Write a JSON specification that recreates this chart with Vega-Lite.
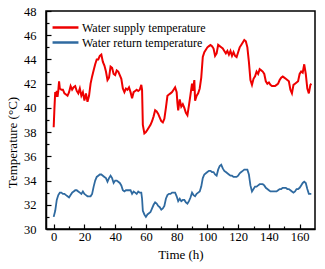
{
  "$schema": "https://vega.github.io/schema/vega-lite/v6.json",
  "width": 269,
  "height": 218,
  "autosize": "none",
  "padding": {"left": 46, "top": 11, "right": 10, "bottom": 40},
  "background": "white",
  "config": {
    "font": "Liberation Serif",
    "view": {"stroke": "black", "strokeWidth": 1.5},
    "axis": {"grid": false, "domainColor": "black", "domainWidth": 1.5, "tickColor": "black", "tickWidth": 1.2, "labelColor": "black", "titleColor": "black", "labelFont": "Liberation Serif", "titleFont": "Liberation Serif", "labelFontSize": 12.5, "titleFontSize": 13, "titleFontWeight": "normal", "labelOverlap": false, "labelFlush": false}
  },
  "resolve": {"axis": {"x": "independent", "y": "independent"}},
  "datasets": {
    "supply": [
      [0,38.4],[0.5,40.0],[1,41.3],[1.5,40.9],[2,41.4],[2.5,40.9],[3,41.4],[3.5,42.2],[4,41.6],[5,41.5],[6,41.5],[7,41.2],[8,41.1],[9,41.0],[10,41.3],[11,41.8],[12,41.5],[13,41.7],[14,41.8],[15,41.4],[16,41.2],[17,41.6],[18,41.0],[19,41.3],[20,40.6],[21,41.2],[22,40.5],[23,41.0],[24,42.0],[25,42.6],[26,43.1],[27,43.6],[28,44.0],[29,44.0],[30,44.3],[31,44.4],[32,43.8],[33,43.5],[34,43.0],[35,42.3],[36,42.5],[37,43.4],[38,43.3],[39,42.8],[40,42.7],[41,43.1],[42,43.0],[43,42.7],[44,42.4],[45,41.6],[46,41.3],[47,41.6],[48,41.5],[49,41.7],[50,41.3],[51,40.8],[52,41.3],[53,41.4],[54,41.5],[55,41.4],[56,41.5],[57,41.9],[57.5,41.5],[58,38.6],[59,37.9],[60,38.0],[61,38.2],[62,38.4],[63,38.6],[64,38.9],[65,39.3],[66,39.8],[67,39.7],[68,39.5],[69,39.2],[70,38.9],[71,38.8],[72,39.1],[73,40.0],[74,41.0],[75,41.1],[76,41.2],[77,41.3],[78,41.5],[79,41.7],[80,41.3],[80.5,40.4],[81,39.8],[82,40.7],[83,40.1],[84,40.3],[85,40.0],[86,39.6],[87,39.4],[88,40.2],[89,41.1],[90,42.0],[90.5,41.4],[91.5,42.3],[92,40.6],[93,41.0],[94,41.2],[95,41.6],[96,42.5],[97,44.2],[98,44.6],[99,44.8],[100,45.0],[101,45.1],[102,45.2],[103,45.1],[104,44.9],[105,44.3],[106,44.5],[107,45.2],[108,45.1],[109,45.0],[110,44.9],[111,44.7],[112,44.5],[113,44.7],[114,44.4],[115,44.7],[116,44.3],[117,44.6],[118,44.3],[119,44.2],[120,44.6],[121,45.0],[122,45.2],[123,45.4],[124,45.6],[125,45.5],[126,45.0],[127,43.8],[128,42.3],[129,41.9],[130,42.4],[131,42.6],[132,43.0],[133,42.8],[134,43.2],[135,43.1],[136,43.0],[137,42.8],[138,42.2],[139,42.0],[140,42.1],[141,41.9],[142,41.8],[143,41.8],[144,41.8],[145,41.9],[146,42.0],[147,42.3],[148,42.5],[149,42.6],[150,42.5],[151,42.4],[152,42.3],[153,42.2],[154,41.5],[155,41.2],[156,41.9],[157,42.0],[158,42.1],[159,42.2],[160,42.8],[161,43.0],[162,42.9],[163,43.6],[164,42.8],[165,41.6],[166,41.2],[167,41.9],[167.6,42.0]
    ],
    "ret": [
      [0,31.0],[1,31.5],[2,32.4],[3,32.8],[4,33.0],[5,33.0],[6,32.9],[7,32.9],[8,32.8],[9,32.7],[10,32.6],[11,32.8],[12,33.0],[13,33.1],[14,33.2],[15,33.2],[16,33.1],[17,33.0],[18,32.9],[19,33.1],[20,32.9],[21,32.8],[22,32.7],[23,32.7],[24,32.7],[25,32.9],[26,33.5],[27,34.0],[28,34.3],[29,34.4],[30,34.5],[31,34.5],[32,34.4],[33,34.3],[34,34.2],[35,33.9],[36,34.2],[37,34.4],[38,34.2],[39,33.8],[40,34.0],[41,34.0],[42,33.9],[43,33.8],[44,33.6],[45,33.2],[46,33.1],[47,33.2],[48,33.2],[49,33.2],[50,33.2],[51,32.9],[52,33.1],[53,33.0],[54,32.9],[55,33.1],[56,33.0],[57,33.0],[57.5,32.5],[58,31.5],[59,31.2],[60,31.0],[61,31.2],[62,31.3],[63,31.4],[64,31.7],[65,32.0],[66,32.2],[67,32.1],[68,31.9],[69,31.8],[70,31.6],[71,31.7],[72,31.9],[73,32.5],[74,32.8],[75,32.9],[76,32.9],[77,33.0],[78,33.0],[79,33.0],[80,32.7],[81,32.3],[82,32.5],[83,32.3],[84,32.4],[85,32.4],[86,32.2],[87,32.1],[88,32.3],[89,32.6],[90,33.0],[91,32.8],[92,32.7],[93,32.9],[94,33.0],[95,33.1],[96,33.5],[97,34.2],[98,34.5],[99,34.6],[100,34.7],[101,34.8],[102,34.8],[103,34.7],[104,34.7],[105,34.5],[106,34.4],[107,34.9],[108,35.2],[109,35.3],[110,35.0],[111,34.8],[112,34.7],[113,34.6],[114,34.5],[115,34.4],[116,34.4],[117,34.3],[118,34.3],[119,34.3],[120,34.4],[121,34.6],[122,34.7],[123,34.8],[124,34.9],[125,34.9],[126,34.9],[127,34.5],[128,33.6],[129,33.1],[130,33.3],[131,33.5],[132,33.5],[133,33.6],[134,33.7],[135,33.7],[136,33.7],[137,33.6],[138,33.4],[139,33.3],[140,33.2],[141,33.1],[142,33.1],[143,33.1],[144,33.1],[145,33.1],[146,33.2],[147,33.3],[148,33.3],[149,33.4],[150,33.4],[151,33.4],[152,33.3],[153,33.3],[154,33.2],[155,33.1],[156,33.0],[157,33.1],[158,33.3],[159,33.3],[160,33.4],[161,33.6],[162,33.8],[163,33.9],[164,33.8],[165,33.3],[166,32.9],[167,32.9],[167.6,32.9]
    ]
  },
  "layer": [
    {
      "data": {"name": "supply"},
      "transform": [{"calculate": "'Water supply temperature'", "as": "series"}, {"calculate": "datum[0]", "as": "t"}, {"calculate": "datum[1]", "as": "v"}],
      "mark": {"type": "line", "strokeWidth": 2, "interpolate": "linear"},
      "encoding": {
        "x": {"field": "t", "type": "quantitative", "scale": {"domain": [-5, 170], "nice": false, "zero": false},
          "axis": {"orient": "bottom", "title": "Time (h)", "values": [0,20,40,60,80,100,120,140,160], "tickSize": -5, "labelPadding": 6, "titlePadding": 6}},
        "y": {"field": "v", "type": "quantitative", "scale": {"domain": [30, 48], "nice": false, "zero": false},
          "axis": {"orient": "left", "title": "Temperature (°C)", "titleY": 131, "values": [30,32,34,36,38,40,42,44,46,48], "tickSize": -5, "labelPadding": 15, "titlePadding": 4}},
        "color": {"field": "series", "type": "nominal", "sort": null,
          "scale": {"domain": ["Water supply temperature", "Water return temperature"], "range": ["#ee0000", "#2f6aa0"]},
          "legend": {"title": null, "orient": "none", "legendX": 11, "legendY": 8, "symbolType": "M-1.85,0H1.85", "symbolSize": 196, "symbolStrokeWidth": 2.5, "labelFontSize": 12, "labelFont": "Liberation Serif", "labelColor": "black", "labelOffset": 8, "rowPadding": 0, "padding": 0}}
      }
    },
    {
      "data": {"name": "ret"},
      "transform": [{"calculate": "'Water return temperature'", "as": "series"}, {"calculate": "datum[0]", "as": "t"}, {"calculate": "datum[1]", "as": "v"}],
      "mark": {"type": "line", "strokeWidth": 1.8, "interpolate": "linear"},
      "encoding": {
        "x": {"field": "t", "type": "quantitative",
          "axis": {"orient": "bottom", "title": null, "labels": false, "domain": false, "values": [10,30,50,70,90,110,130,150], "tickSize": -3}},
        "y": {"field": "v", "type": "quantitative",
          "axis": {"orient": "left", "title": null, "labels": false, "domain": false, "values": [31,33,35,37,39,41,43,45,47], "tickSize": -3}},
        "color": {"field": "series", "type": "nominal"}
      }
    }
  ]
}
